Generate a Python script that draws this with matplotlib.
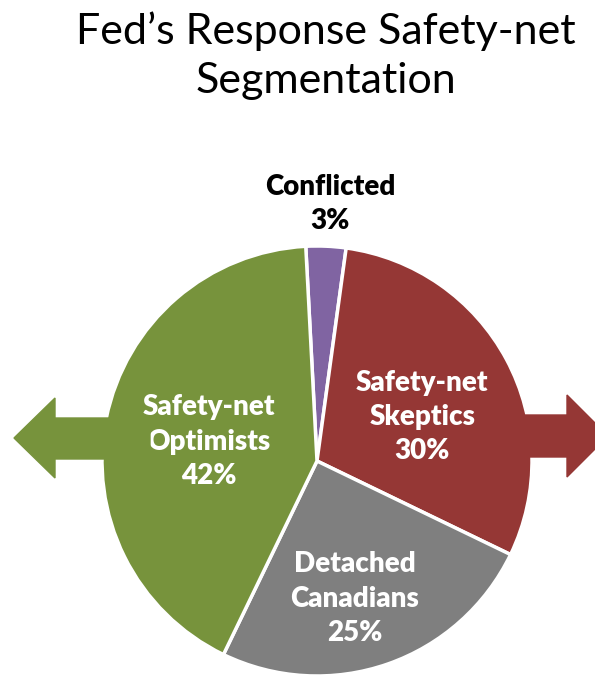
import matplotlib.pyplot as plt
from matplotlib.patches import Polygon

# Segment data.
segments = ['Conflicted', 'Safety-net\nSkeptics', 'Detached\nCanadians', 'Safety-net\nOptimists']
shares = [3, 30, 25, 42]
colors = ['#8064A2', '#953735', '#7F7F7F', '#77933C']
text_colors = ['black', 'white', 'white', 'white']

# Label positions (pie data units, centre of text block).
label_xy = [(0.06, 1.195), (0.49, 0.205), (0.175, -0.64), (-0.505, 0.09)]

W, H = 595, 676
fig = plt.figure(figsize=(W / 100, H / 100), dpi=100)

# Side arrows (figure pixel coords, y from top).
def px(pts):
    return [(x / W, 1 - y / H) for x, y in pts]

left_arrow = px([(14, 438), (55, 398), (55, 418), (150, 418), (150, 459), (55, 459), (55, 478)])
right_arrow = px([(608, 436), (567, 395), (567, 415), (480, 415), (480, 457), (567, 457), (567, 477)])
fig.patches.append(Polygon(left_arrow, closed=True, transform=fig.transFigure, color='#77933C', zorder=0))
fig.patches.append(Polygon(right_arrow, closed=True, transform=fig.transFigure, color='#953735', zorder=0))

# Pie: centre (317, 461) px, radius 215 px.
cx, cy, r = 317, 461, 215
ax = fig.add_axes([(cx - r) / W, (H - cy - r) / H, 2 * r / W, 2 * r / H])
ax.pie(shares, colors=colors, startangle=93, counterclock=False, radius=1,
       wedgeprops=dict(edgecolor='white', linewidth=2.5))
ax.set_xlim(-1, 1)
ax.set_ylim(-1, 1)
ax.set_aspect('equal')
ax.axis('off')

for name, val, (x, y), tc in zip(segments, shares, label_xy, text_colors):
    ax.text(x, y, '%s\n%d%%' % (name, val), ha='center', va='center', color=tc,
            fontsize=20, fontweight='heavy', family=['Lato', 'DejaVu Sans'],
            linespacing=1.4, clip_on=False)

fig.text(326 / W, 1 - 56 / H, 'Fed\u2019s Response Safety-net\nSegmentation', ha='center', va='center',
         fontsize=31, family=['Lato', 'DejaVu Sans'], linespacing=1.35)

fig.savefig('out.png', dpi=100)
